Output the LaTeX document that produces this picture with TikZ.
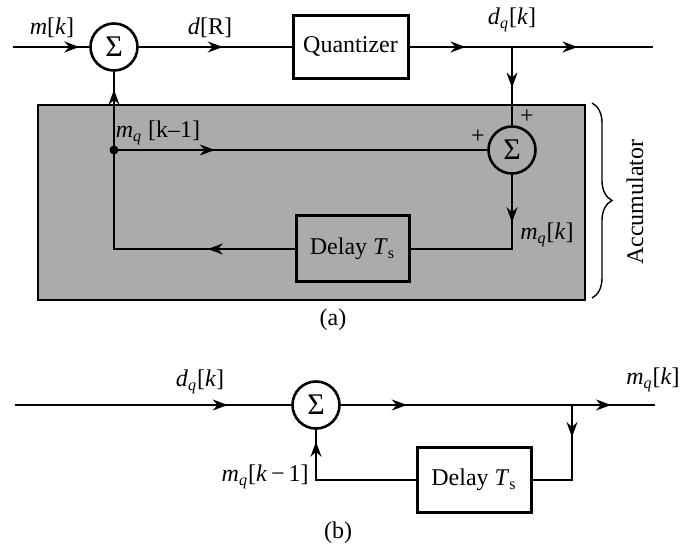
\documentclass[tikz,border=0pt]{standalone}
\usepackage{fontspec}
\setmainfont{Liberation Serif}
\usetikzlibrary{arrows.meta,decorations.markings,decorations.pathreplacing}
\tikzset{
  sumnode/.style={circle, draw, line width=1.3pt, minimum size=23.5pt, inner sep=0pt, font=\fontsize{15}{17}\selectfont},
  blockbox/.style={draw, line width=1.5pt, inner sep=0pt, font=\fontsize{12}{14}\selectfont},
  lbl/.style={inner sep=0pt, font=\fontsize{12}{14}\selectfont},
  wire/.style={line width=0.9pt},
  arrowat/.style={postaction={decorate, decoration={markings, mark=at position #1 with {\arrow{Stealth[length=7.5pt,width=5.5pt]}}}}},
}
\newcommand{\qsig}[2]{\textit{#1}\textsubscript{\textit{q}}[#2]}
\begin{document}
\begin{tikzpicture}[x=0.5pt, y=-0.5pt]
    % 1. Page frame
    \useasboundingbox (0,0) rectangle (685,550);

    % 2. Shaded accumulator and its brace
    \draw[line width=0.8pt, fill=black!33] (38,105) rectangle (585,300);
    \draw[line width=0.7pt, decorate, decoration={brace, amplitude=10pt}] (592,103) -- (592,298);

    % 3. Blocks of (a)
    \node[sumnode] (sum1) at (114,47) {Σ};
    \node[blockbox, minimum width=57.5pt, minimum height=31.5pt] (quant) at (350.5,47) {Quantizer};
    \node[sumnode] (sum2) at (512,150) {Σ};
    \node[blockbox, minimum width=56.5pt, minimum height=33pt] (dly1) at (352.5,249) {Delay \textit{T}\textsubscript{s}};
    \node[circle, fill, inner sep=0pt, minimum size=4.5pt] (jn) at (114,150) {};
    \coordinate (inA) at (13,47);
    \coordinate (brA) at (512,47);
    \coordinate (outA) at (653,47);

    % 4. Connectors of (a)
    \draw[wire, arrowat=0.87] (inA) -- (sum1.west);
    \draw[wire, arrowat=0.55] (sum1.east) -- (quant.west);
    \draw[wire, arrowat=0.23, arrowat=0.69] (quant.east) -- (outA);
    \draw[wire, arrowat=0.52] (brA) -- (sum2.north);
    \draw[wire, arrowat=0.27] (jn.center) -- (sum2.west);
    \draw[wire, arrowat=0.27] (sum2.south) |- (dly1.east);
    \draw[wire, arrowat=0.31] (dly1.west) -| (jn.center);
    \draw[wire, arrowat=0.77] (jn.center) -- (sum1.south);

    % 5. Labels of (a)
    \node[lbl] (lblm) at (52,28) {\textit{m}[\textit{k}]};
    \node[lbl] (lbld) at (210,28) {\textit{d}[R]};
    \node[lbl] (lbldq) at (512,20) {\qsig{d}{\textit{k}}};
    \node[lbl] (plusT) at (527,117) {+};
    \node[lbl] (plusL) at (478,137) {+};
    \node[lbl] (lblmk1) at (158,133) {\textit{m}\textsubscript{\textit{q}} [k–1]};
    \node[lbl] (lblmq) at (547,235) {\qsig{m}{\textit{k}}};
    \node[lbl, rotate=90] (lblacc) at (635,202) {Accumulator};
    \node[lbl] (capa) at (333,320) {(a)};

    % 6. Blocks of (b)
    \node[sumnode] (sum3) at (316,405) {Σ};
    \node[blockbox, minimum width=57pt, minimum height=32.5pt] (dly2) at (474,480) {Delay \textit{T}\textsubscript{s}};
    \coordinate (inB) at (15,405);
    \coordinate (brB) at (572,405);
    \coordinate (outB) at (655,405);

    % 7. Connectors of (b)
    \draw[wire, arrowat=0.77] (inB) -- (sum3.west);
    \draw[wire, arrowat=0.21, arrowat=0.86] (sum3.east) -- (outB);
    \draw[wire, arrowat=0.28] (brB) |- (dly2.east);
    \draw[wire, arrowat=0.92] (dly2.west) -| (sum3.south);

    % 8. Labels of (b)
    \node[lbl] (lbldqb) at (200,382) {\qsig{d}{\textit{k}}};
    \node[lbl] (lblmqb) at (653,380) {\qsig{m}{\textit{k}}};
    \node[lbl, anchor=east] (lblmkb) at (309,477) {\qsig{m}{\textit{k}\,−\,1}};
    \node[lbl] (capb) at (338,533) {(b)};
\end{tikzpicture}
\end{document}
